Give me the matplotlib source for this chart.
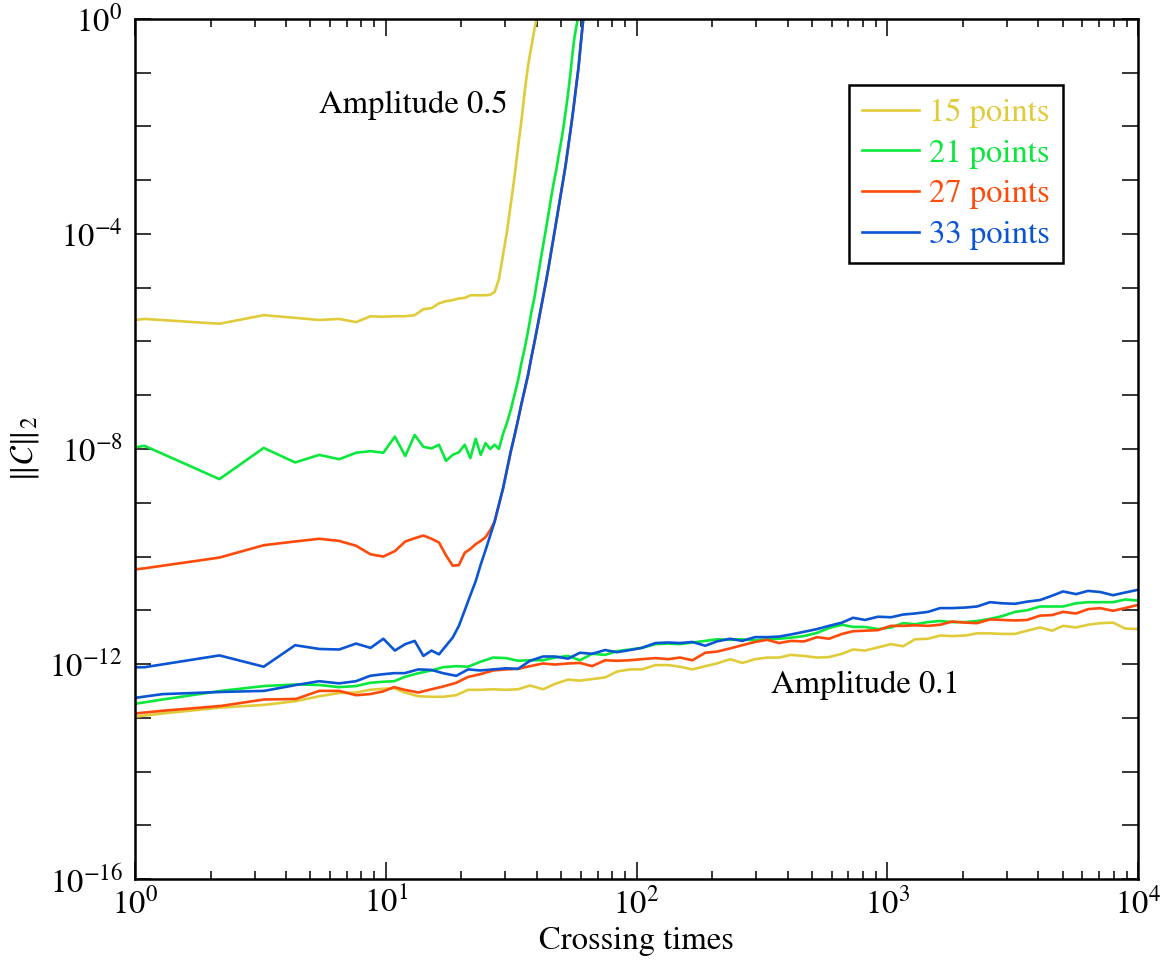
import numpy as np
import matplotlib
matplotlib.use('Agg')
import matplotlib.pyplot as plt
from matplotlib.ticker import FixedLocator, FuncFormatter, NullLocator

plt.rcParams['font.family'] = 'STIXGeneral'
plt.rcParams['mathtext.fontset'] = 'stix'

# grid resolutions and line colours
resolutions = [15, 21, 27, 33]
colors = ['#e0cc3a', '#0ae83c', '#ff4a0a', '#0a55d4']

# amplitude 0.5 runs: output times (crossing times) and log10 of the constraint norm
t_amp05 = [1.00, 1.09, 2.17, 3.26, 4.35, 5.43, 6.52, 7.61, 8.70, 9.78,
           10.87, 11.96, 13.04, 14.13, 15.22, 16.30, 17.39, 18.48, 19.57, 20.65,
           21.74, 22.83, 23.91, 25.00, 26.09, 27.17, 28.26, 29.35, 30.43, 31.52,
           32.61, 33.70, 34.78, 35.87, 36.96, 38.04, 39.13, 40.22, 41.30, 42.39,
           43.48, 44.57, 45.65, 46.74, 47.83, 48.91, 50.00, 51.09, 52.17, 53.26,
           54.35, 55.43, 56.52, 57.61, 58.70, 59.78, 60.87, 61.96]

c15_amp05 = [-5.60, -5.58, -5.67, -5.51, -5.56, -5.60, -5.58, -5.64, -5.53, -5.54,
             -5.53, -5.53, -5.51, -5.40, -5.38, -5.29, -5.25, -5.23, -5.20, -5.19,
             -5.14, -5.14, -5.14, -5.14, -5.13, -5.08, -4.84, -4.39, -3.96, -3.44,
             -2.94, -2.38, -1.88, -1.32, -0.86, -0.52, -0.20, 0.11]
c21_amp05 = [-7.97, -7.94, -8.56, -7.98, -8.25, -8.11, -8.19, -8.07, -8.04, -8.07,
             -7.77, -8.13, -7.74, -7.96, -7.99, -7.92, -8.22, -8.11, -8.06, -7.92,
             -8.17, -7.81, -8.11, -7.89, -8.00, -7.92, -8.00, -7.72, -7.51, -7.27,
             -6.99, -6.72, -6.39, -6.11, -5.80, -5.46, -5.19, -4.85, -4.53, -4.22,
             -3.92, -3.62, -3.32, -3.05, -2.81, -2.54, -2.29, -2.02, -1.72, -1.41,
             -1.06, -0.68, -0.35, -0.13, 0.09]
c27_amp05 = [-10.24, -10.22, -10.02, -9.79, -9.72, -9.67, -9.71, -9.80, -9.96, -10.00,
             -9.90, -9.72, -9.66, -9.61, -9.67, -9.74, -9.98, -10.17, -10.16, -9.93,
             -9.86, -9.77, -9.71, -9.64, -9.51, -9.35, -9.04, -8.74, -8.39, -8.05,
             -7.76, -7.46, -7.16, -6.89, -6.62, -6.31, -6.03, -5.74, -5.46, -5.18,
             -4.91, -4.63, -4.34, -4.06, -3.78, -3.51, -3.24, -2.98, -2.72, -2.42,
             -2.13, -1.84, -1.53, -1.21, -0.91, -0.52, -0.15, 0.21]
c33_amp05 = [-12.06, -12.06, -11.84, -12.05, -11.65, -11.72, -11.73, -11.62, -11.70, -11.53,
             -11.75, -11.63, -11.57, -11.85, -11.75, -11.82, -11.66, -11.51, -11.29, -11.00,
             -10.72, -10.46, -10.15, -9.88, -9.61, -9.35, -9.03, -8.73, -8.38, -8.04,
             -7.75, -7.45, -7.15, -6.88, -6.61, -6.30, -6.02, -5.73, -5.45, -5.17,
             -4.90, -4.62, -4.33, -4.05, -3.77, -3.50, -3.23, -2.97, -2.71, -2.41,
             -2.12, -1.83, -1.52, -1.20, -0.90, -0.51, -0.14, 0.22]

# amplitude 0.1 runs
t_amp01 = [1.0, 1.29, 2.20, 3.27, 4.39, 5.42, 6.51, 7.61, 8.65, 9.75,
           10.8, 11.9, 13.5, 15.2, 16.9, 19.1, 21.3, 23.8, 26.8, 30.2,
           33.7, 37.6, 42.4, 47.3, 53.3, 59.5, 66.5, 74.9, 83.6, 94.2,
           105, 119, 134, 149, 167, 188, 209, 236, 264, 297,
           332, 370, 413, 466, 525, 586, 660, 730, 815, 919,
           1035, 1156, 1290, 1454, 1624, 1813, 2043, 2280, 2569, 2869,
           3232, 3608, 4067, 4539, 5022, 5657, 6318, 7055, 7950, 8877,
           10000]

c15_amp01 = [-12.98, -12.92, -12.81, -12.76, -12.69, -12.60, -12.54, -12.53, -12.48, -12.46,
             -12.45, -12.53, -12.60, -12.61, -12.61, -12.58, -12.48, -12.48, -12.47, -12.48,
             -12.47, -12.40, -12.47, -12.37, -12.29, -12.31, -12.28, -12.25, -12.14, -12.10,
             -12.10, -12.02, -12.02, -12.05, -12.10, -12.04, -11.99, -11.91, -11.98, -11.91,
             -11.88, -11.88, -11.83, -11.85, -11.88, -11.87, -11.81, -11.73, -11.75, -11.69,
             -11.63, -11.67, -11.54, -11.53, -11.47, -11.48, -11.47, -11.43, -11.43, -11.44,
             -11.44, -11.38, -11.32, -11.38, -11.29, -11.32, -11.27, -11.24, -11.23, -11.34,
             -11.35]
c21_amp01 = [-12.74, -12.66, -12.50, -12.41, -12.38, -12.39, -12.43, -12.41, -12.35, -12.33,
             -12.32, -12.24, -12.17, -12.12, -12.06, -12.04, -12.05, -11.96, -11.88, -11.89,
             -11.94, -11.93, -11.93, -11.88, -11.85, -11.93, -11.81, -11.83, -11.76, -11.73,
             -11.70, -11.63, -11.62, -11.63, -11.60, -11.57, -11.54, -11.55, -11.54, -11.56,
             -11.54, -11.53, -11.51, -11.48, -11.42, -11.33, -11.27, -11.31, -11.31, -11.35,
             -11.32, -11.24, -11.26, -11.22, -11.20, -11.22, -11.22, -11.20, -11.16, -11.11,
             -11.03, -11.00, -10.93, -10.93, -10.93, -10.87, -10.85, -10.85, -10.85, -10.80,
             -10.82]
c27_amp01 = [-12.92, -12.87, -12.78, -12.66, -12.65, -12.50, -12.50, -12.58, -12.56, -12.51,
             -12.43, -12.48, -12.53, -12.47, -12.42, -12.35, -12.24, -12.19, -12.12, -12.10,
             -12.09, -12.04, -11.99, -12.01, -11.99, -11.98, -12.04, -11.93, -11.94, -11.93,
             -11.91, -11.89, -11.91, -11.88, -11.93, -11.79, -11.77, -11.71, -11.65, -11.59,
             -11.55, -11.61, -11.57, -11.58, -11.50, -11.53, -11.44, -11.39, -11.38, -11.37,
             -11.29, -11.29, -11.28, -11.29, -11.27, -11.21, -11.23, -11.24, -11.17, -11.18,
             -11.19, -11.18, -11.10, -11.09, -11.03, -11.06, -10.98, -10.96, -11.01, -10.96,
             -10.90]
c33_amp01 = [-12.63, -12.56, -12.52, -12.50, -12.39, -12.32, -12.36, -12.32, -12.22, -12.19,
             -12.17, -12.17, -12.10, -12.11, -12.17, -12.22, -12.10, -12.12, -12.10, -12.08,
             -12.09, -11.94, -11.86, -11.86, -11.90, -11.79, -11.81, -11.74, -11.78, -11.74,
             -11.70, -11.61, -11.60, -11.61, -11.59, -11.66, -11.58, -11.53, -11.57, -11.50,
             -11.50, -11.49, -11.45, -11.40, -11.35, -11.29, -11.23, -11.14, -11.18, -11.12,
             -11.13, -11.08, -11.06, -11.03, -10.96, -10.96, -10.95, -10.93, -10.85, -10.87,
             -10.88, -10.84, -10.81, -10.73, -10.65, -10.70, -10.64, -10.66, -10.72, -10.67,
             -10.62]

amp05_runs = [c15_amp05, c21_amp05, c27_amp05, c33_amp05]
amp01_runs = [c15_amp01, c21_amp01, c27_amp01, c33_amp01]

fs = 23.5

fig = plt.figure(figsize=(11.64, 9.63), dpi=100)
ax = fig.add_axes([0.116, 0.0872, 0.8617, 0.8931])

lw = 1.9
for vals, col in zip(amp05_runs, colors):
    ax.plot(t_amp05[:len(vals)], 10.0 ** np.array(vals), color=col, lw=lw)
for vals, col, res in zip(amp01_runs, colors, resolutions):
    ax.plot(t_amp01, 10.0 ** np.array(vals), color=col, lw=lw, label='%d points' % res)

ax.set_xscale('log')
ax.set_yscale('log')
ax.set_xlim(1, 1e4)
ax.set_ylim(1e-16, 1)

# a tick at every decade on y, labels only every fourth decade
ax.yaxis.set_major_locator(FixedLocator(10.0 ** np.arange(-16, 1)))
ax.yaxis.set_minor_locator(NullLocator())

def ylab(v, pos):
    e = int(round(np.log10(v)))
    return r'$10^{%d}$' % e if e % 4 == 0 else ''

ax.yaxis.set_major_formatter(FuncFormatter(ylab))
ax.xaxis.set_major_formatter(FuncFormatter(lambda v, pos: r'$10^{%d}$' % int(round(np.log10(v)))))

ax.tick_params(which='both', direction='in', top=True, right=True, width=1.1,
               labelsize=fs)
ax.tick_params(axis='x', which='major', length=12, pad=6)
ax.tick_params(axis='x', which='minor', length=6)
ax.tick_params(axis='y', which='major', length=11.5, pad=9)
for sp in ax.spines.values():
    sp.set_linewidth(1.8)

ax.set_xlabel('Crossing times', fontsize=fs, labelpad=5)
ax.set_ylabel(r'$\Vert\mathcal{C}\Vert_2$', fontsize=fs, labelpad=6)

ax.text(12.85, 10 ** -1.6, 'Amplitude 0.5', fontsize=fs, ha='center', va='center')
ax.text(815, 10 ** -12.39, 'Amplitude 0.1', fontsize=fs, ha='center', va='center')

leg = ax.legend(loc='upper right', bbox_to_anchor=(0.925, 0.923), borderaxespad=0,
                fontsize=fs, fancybox=False, framealpha=1, edgecolor='black',
                handlelength=1.75, handletextpad=0.3, labelspacing=0.33,
                borderpad=0.4)
leg.get_frame().set_linewidth(1.8)
for txt, line in zip(leg.get_texts(), leg.get_lines()):
    txt.set_color(line.get_color())

fig.savefig('out.png', dpi=100)
